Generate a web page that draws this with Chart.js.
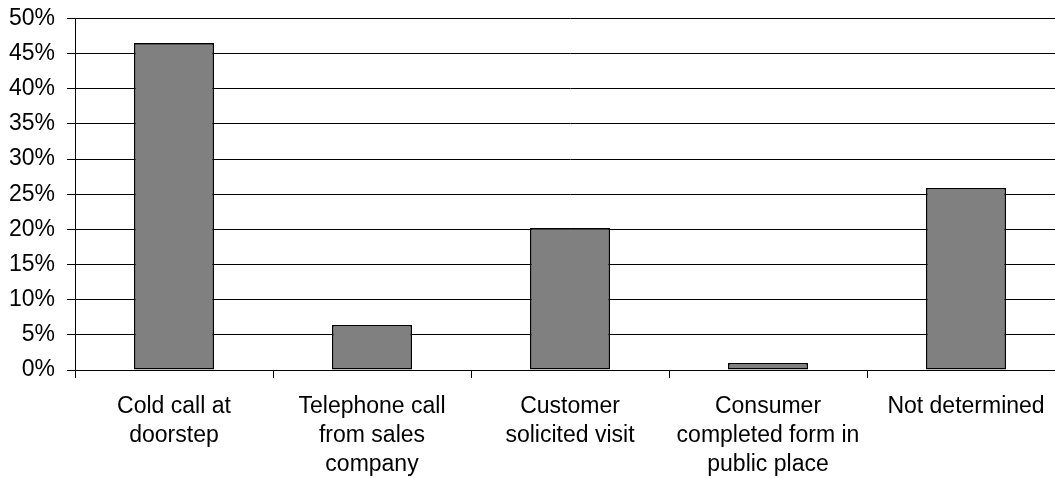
<!DOCTYPE html>
<html>
<head>
<meta charset="utf-8">
<script src="https://cdn.jsdelivr.net/npm/chart.js@4/dist/chart.umd.min.js"></script>
<style>
  html, body { margin: 0; padding: 0; background: #ffffff; overflow: hidden; }
  #wrap { width: 1055px; height: 478px; overflow: hidden; }
  canvas { display: block; }
</style>
</head>
<body>
<div id="wrap"><canvas id="chart" width="1065" height="478"></canvas></div>
<script>
// Categories (multi-line labels) and share of cases for each
const categories = [
  ['Cold call at', 'doorstep'],
  ['Telephone call', 'from sales', 'company'],
  ['Customer', 'solicited visit'],
  ['Consumer', 'completed form in', 'public place'],
  'Not determined'
];
const shares = [46.5, 6.4, 20.2, 1.0, 25.9];
const yTicks = [0, 5, 10, 15, 20, 25, 30, 35, 40, 45, 50];

const family = '"Liberation Sans", Arial, sans-serif';
const xFont = { family: family, size: 23, lineHeight: 1.27 };
// single-line labels; a compact line height keeps the top label's reserved space small
const yFont = { family: family, size: 23, lineHeight: 0.56 };

new Chart(document.getElementById('chart'), {
  type: 'bar',
  data: {
    labels: categories,
    datasets: [{
      data: shares,
      backgroundColor: '#808080',
      borderColor: '#000000',
      borderWidth: 1.6,
      borderSkipped: false,
      barPercentage: 0.404,
      categoryPercentage: 1.0
    }]
  },
  options: {
    responsive: false,
    animation: false,
    layout: { padding: { top: 0, right: 0, bottom: 0, left: 0 } },
    plugins: { legend: { display: false }, tooltip: { enabled: false } },
    scales: {
      x: {
        offset: true,
        grid: {
          offset: true,
          drawOnChartArea: false,
          drawTicks: true,
          tickLength: 8,
          color: '#000000',
          lineWidth: 1
        },
        border: { display: true, color: '#000000', width: 1 },
        ticks: {
          color: '#000000',
          font: xFont,
          padding: 14,
          maxRotation: 0,
          autoSkip: false
        },
        afterFit: (scale) => { scale.height = 108; }
      },
      y: {
        min: 0,
        max: 50,
        afterBuildTicks: (scale) => { scale.ticks = yTicks.map(v => ({ value: v })); },
        grid: {
          color: '#000000',
          lineWidth: 1,
          tickLength: 8,
          drawTicks: true
        },
        border: { display: true, color: '#000000', width: 1 },
        ticks: {
          color: '#000000',
          font: yFont,
          padding: 12,
          callback: (v) => v + '%'
        },
        afterFit: (scale) => { scale.width = 75; }
      }
    }
  }
});
</script>
</body>
</html>
